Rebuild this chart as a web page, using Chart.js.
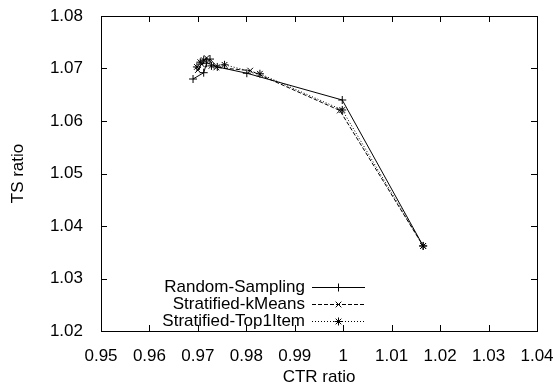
<!DOCTYPE html>
<html>
<head>
<meta charset="utf-8">
<title>TS ratio vs CTR ratio</title>
<script src="https://cdn.jsdelivr.net/npm/chart.js@4/dist/chart.umd.min.js"></script>
<style>
  html, body { margin: 0; padding: 0; background: #fff; }
  #chart { display: block; }
</style>
</head>
<body>
<canvas id="chart" width="558" height="386"></canvas>
<script>
/* ---- Dados ---- */
const seriesNames = ['Random-Sampling', 'Stratified-kMeans', 'Stratified-Top1Item'];

const randomX = [0.9690, 0.9712, 0.9718, 0.9725, 0.9740, 0.9801, 0.9998, 1.0165];
const randomY = [1.0680, 1.0692, 1.0710, 1.0718, 1.0703, 1.0691, 1.0640, 1.0362];

const kmeansX = [0.9700, 0.9708, 0.9718, 0.9738, 0.9808, 0.9993, 1.0165];
const kmeansY = [1.0697, 1.0708, 1.0720, 1.0702, 1.0696, 1.0620, 1.0362];

const top1X = [0.9698, 0.9705, 0.9712, 0.9728, 0.9755, 0.9828, 0.9998, 1.0165];
const top1Y = [1.0703, 1.0712, 1.0716, 1.0705, 1.0707, 1.0690, 1.0621, 1.0362];

const xTicks = [0.95, 0.96, 0.97, 0.98, 0.99, 1.00, 1.01, 1.02, 1.03, 1.04];
const yTicks = [1.02, 1.03, 1.04, 1.05, 1.06, 1.07, 1.08];

const FONT = "'Liberation Sans', Arial, Helvetica, sans-serif";
const FONT_SIZE = 17;

function toPoints(xs, ys) {
  return xs.map((x, i) => ({ x: x, y: ys[i] }));
}

/* ---- Moldura e ticks para dentro (estilo gnuplot) ---- */
const frameTicks = {
  id: 'frameTicks',
  afterDraw(chart) {
    const { ctx, chartArea: a, scales } = chart;
    const len = 6;
    ctx.save();
    ctx.strokeStyle = '#000';
    ctx.lineWidth = 1;
    ctx.beginPath();
    xTicks.forEach(v => {
      const px = Math.round(scales.x.getPixelForValue(v)) + 0.5;
      ctx.moveTo(px, a.bottom); ctx.lineTo(px, a.bottom - len);
      ctx.moveTo(px, a.top);    ctx.lineTo(px, a.top + len);
    });
    yTicks.forEach(v => {
      const py = Math.round(scales.y.getPixelForValue(v)) + 0.5;
      ctx.moveTo(a.left, py);  ctx.lineTo(a.left + len, py);
      ctx.moveTo(a.right, py); ctx.lineTo(a.right - len, py);
    });
    ctx.stroke();
    ctx.strokeRect(Math.round(a.left) + 0.5, Math.round(a.top) + 0.5,
                   Math.round(a.right - a.left), Math.round(a.bottom - a.top));
    ctx.restore();
  }
};

/* ---- Legenda: texto à direita, amostra de linha depois ---- */
const gnuLegend = {
  id: 'gnuLegend',
  afterDraw(chart) {
    const { ctx } = chart;
    const textRight = 305, lineL = 312, lineR = 365, top = 287, step = 17;
    ctx.save();
    ctx.font = FONT_SIZE + 'px ' + FONT;
    ctx.textAlign = 'right';
    ctx.textBaseline = 'middle';
    chart.data.datasets.forEach((ds, i) => {
      const y = top + i * step;
      ctx.fillStyle = '#000';
      ctx.fillText(ds.label, textRight, y);
      ctx.strokeStyle = '#000';
      ctx.lineWidth = 1;
      ctx.setLineDash(ds.borderDash || []);
      ctx.beginPath();
      ctx.moveTo(lineL, y + 0.5);
      ctx.lineTo(lineR, y + 0.5);
      ctx.stroke();
      ctx.setLineDash([]);
      Chart.helpers.drawPoint(ctx, {
        pointStyle: ds.pointStyle, radius: ds.pointRadius, rotation: 0, borderWidth: 1
      }, (lineL + lineR) / 2, y + 0.5);
    });
    ctx.restore();
  }
};

function makeDataset(label, xs, ys, style, dash) {
  return {
    label: label,
    data: toPoints(xs, ys),
    showLine: true,
    borderColor: '#000',
    backgroundColor: '#000',
    borderWidth: 1,
    borderDash: dash,
    pointStyle: style,
    pointRadius: 4,
    pointBorderWidth: 1,
    pointBorderColor: '#000',
    tension: 0,
  };
}

new Chart(document.getElementById('chart'), {
  type: 'scatter',
  data: {
    datasets: [
      makeDataset(seriesNames[0], randomX, randomY, 'cross', []),
      makeDataset(seriesNames[1], kmeansX, kmeansY, 'crossRot', [4, 2]),
      makeDataset(seriesNames[2], top1X, top1Y, 'star', [1, 2]),
    ],
  },
  options: {
    responsive: false,
    animation: false,
    layout: { padding: { top: 16, right: 21, left: 0, bottom: 0 } },
    plugins: {
      legend: { display: false },
      tooltip: { enabled: false },
    },
    scales: {
      x: {
        type: 'linear',
        min: 0.95,
        max: 1.04,
        afterFit: s => { s.height = 55; s.paddingLeft = 0; s.paddingRight = 0; },
        afterBuildTicks: s => { s.ticks = xTicks.map(v => ({ value: v })); },
        grid: { display: false },
        border: { display: false },
        ticks: {
          color: '#000',
          padding: 7,
          maxRotation: 0,
          font: { family: FONT, size: FONT_SIZE },
          callback: v => String(Number(v.toFixed(2))),
        },
        title: {
          display: true,
          text: 'CTR ratio',
          color: '#000',
          padding: { top: 0, bottom: -2 },
          font: { family: FONT, size: FONT_SIZE },
        },
      },
      y: {
        type: 'linear',
        min: 1.02,
        max: 1.08,
        afterFit: s => { s.width = 101; s.paddingTop = 0; s.paddingBottom = 0; },
        afterBuildTicks: s => { s.ticks = yTicks.map(v => ({ value: v })); },
        grid: { display: false },
        border: { display: false },
        ticks: {
          color: '#000',
          padding: 10,
          font: { family: FONT, size: FONT_SIZE },
          callback: v => v.toFixed(2),
        },
        title: {
          display: true,
          text: 'TS ratio',
          color: '#000',
          padding: { top: 8, bottom: 0 },
          font: { family: FONT, size: FONT_SIZE },
        },
      },
    },
  },
  plugins: [frameTicks, gnuLegend],
});
</script>
</body>
</html>
